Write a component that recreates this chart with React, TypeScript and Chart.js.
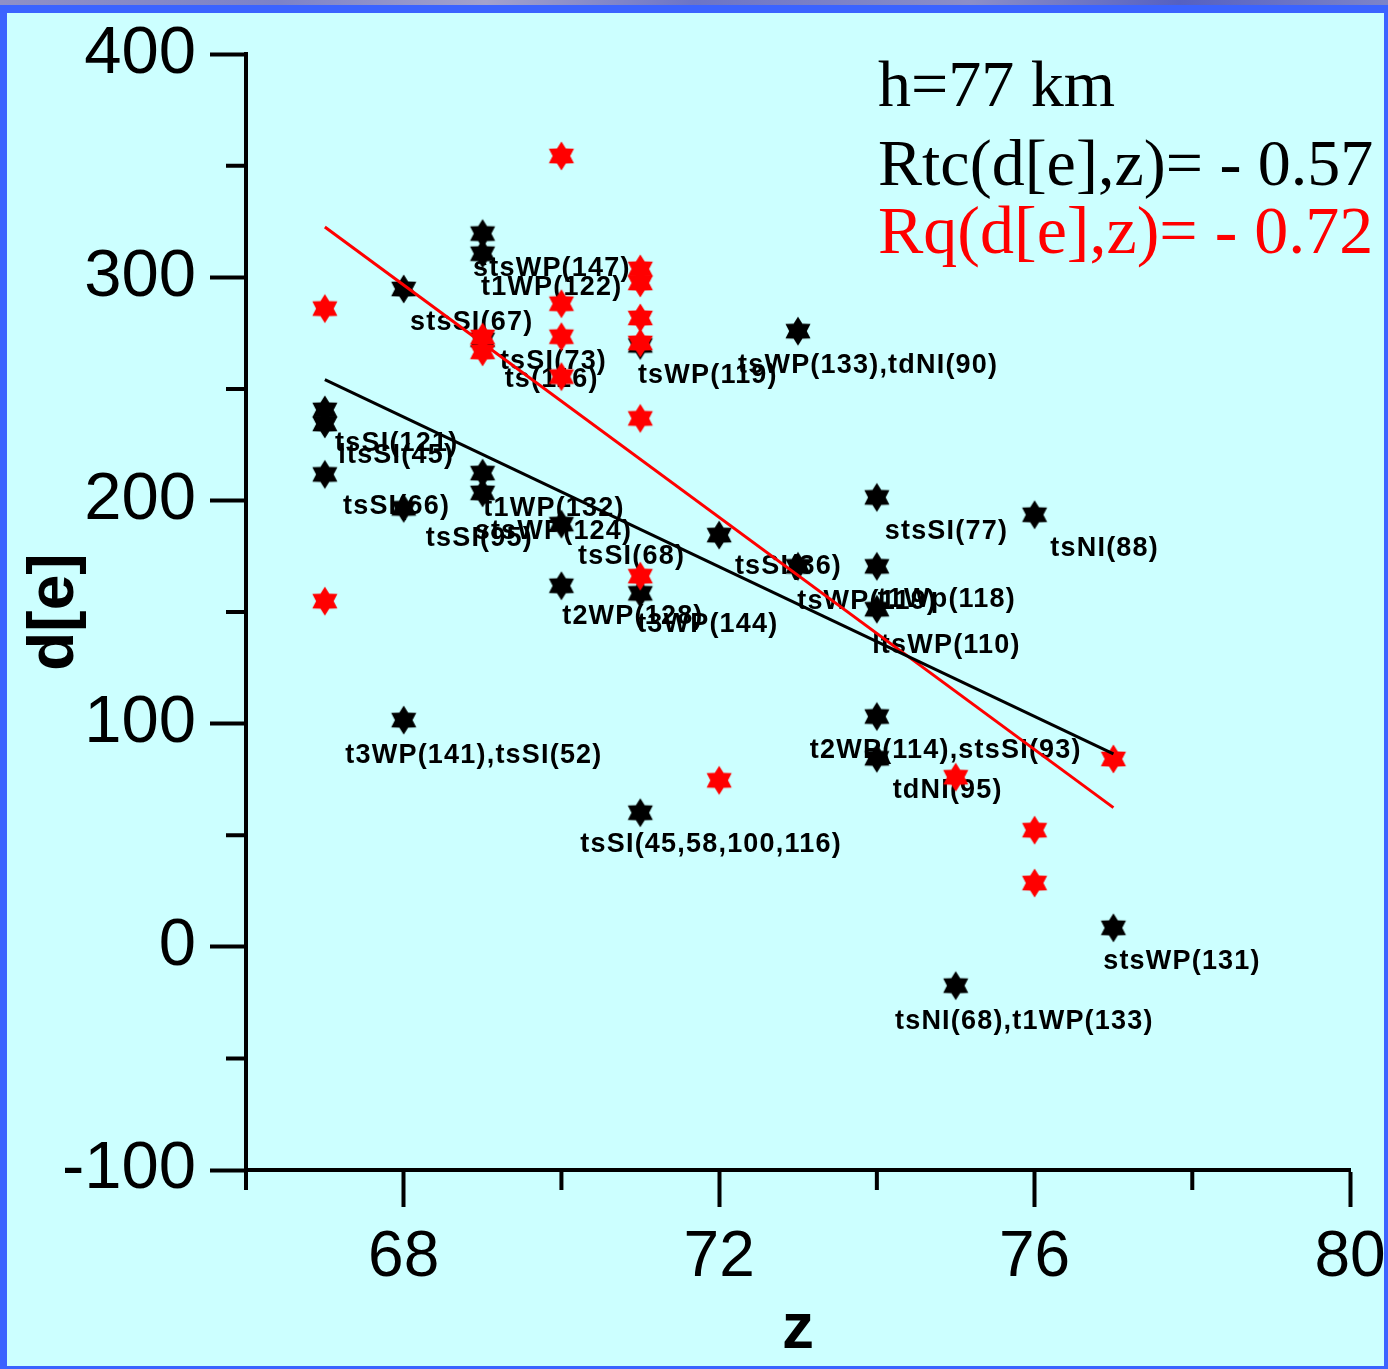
import React, { useEffect, useRef } from 'react';
import { Chart, registerables } from 'chart.js';

Chart.register(...registerables);

// Thermal-class (tc) events: black stars
const tcZ = [67, 67, 67, 68, 68, 68, 69, 69, 69, 69, 69, 70, 70, 71, 71, 71, 72, 73, 73, 74, 74, 74, 74, 74, 75, 76, 77];
const tcD = [240.6, 234.3, 211.7, 294.8, 196.5, 101.6, 319.6, 310.6, 272.0, 212.3, 203.4, 189.4, 161.8, 269.5, 158.4, 60.1, 184.5, 275.9, 170.5, 201.4, 170.5, 151.3, 103.2, 84.5, -17.4, 193.6, 8.5];

// Quake-class (q) events: red stars
const qZ = [67, 67, 69, 69, 70, 70, 70, 70, 71, 71, 71, 71, 71, 71, 72, 75, 76, 76, 77];
const qD = [286.0, 154.9, 273.3, 266.6, 354.4, 288.2, 273.4, 255.5, 303.8, 297.5, 281.8, 270.6, 236.8, 166.1, 74.6, 76.0, 52.3, 28.6, 84.2];

// Linear fits
const fitZ = [67, 77];
const tcFit = [254.2, 86.5];
const qFit = [322.6, 62.4];

// Event labels, anchored at their left edge in data coordinates
const labelText = [
  'stsWP(147)', 't1WP(122)', 'stsSI(67)', 'tsSI(73)', 'ts(116)', 'tsWP(119)', 'tsWP(133),tdNI(90)',
  'tsSI(121)', 'ltsSI(45)', 'tsSI(66)', 't1WP(132)', 'stsWP(124)', 'tsSI(95)', 'tsSI(68)',
  't2WP(128)', 't3WP(144)', 'tsSI(36)', 'stsSI(77)', 'tsNI(88)', 'tsWP(119)', 't1Wp(118)',
  'ltsWP(110)', 't3WP(141),tsSI(52)', 'tsSI(45,58,100,116)', 't2WP(114),stsSI(93)', 'tdNI(95)',
  'stsWP(131)', 'tsNI(68),t1WP(133)',
];
const labelZ = [
  68.88, 68.98, 68.08, 69.22, 69.28, 70.97, 72.24,
  67.13, 67.17, 67.23, 69.01, 68.90, 68.28, 70.21,
  70.01, 70.96, 72.20, 74.10, 76.20, 72.99, 74.01,
  73.94, 67.26, 70.24, 73.15, 74.20,
  76.87, 74.23,
];
const labelD = [
  303.8, 295.3, 279.7, 262.3, 254.2, 256.0, 260.5,
  225.6, 220.2, 197.4, 196.5, 186.2, 183.1, 175.0,
  147.8, 144.2, 170.6, 186.2, 178.6, 154.9, 155.8,
  134.8, 85.6, 45.8, 87.8, 69.9,
  -6.5, -33.4,
];

// Axis ticks
const xMajor = [68, 72, 76, 80];
const xMinor = [66, 70, 74, 78];
const yMinor = [-50, 50, 150, 250, 350];

const W = 1388;
const H = 1369;
const SANS = '"Liberation Sans", Arial, sans-serif';
const SERIF = '"Liberation Serif", "Times New Roman", serif';

function hexagram(color: string): HTMLCanvasElement {
  const c = document.createElement('canvas');
  c.width = 32;
  c.height = 32;
  const g = c.getContext('2d')!;
  const R = 14.5;
  const r = 8.8;
  g.fillStyle = color;
  g.beginPath();
  for (let i = 0; i < 12; i++) {
    const a = -Math.PI / 2 + (i * Math.PI) / 6;
    const rad = i % 2 === 0 ? R : r;
    const px = 16 + rad * Math.cos(a);
    const py = 16 + rad * Math.sin(a);
    if (i === 0) g.moveTo(px, py);
    else g.lineTo(px, py);
  }
  g.closePath();
  g.fill();
  return c;
}

const framePlugin = {
  id: 'frame',
  beforeDraw(chart: any) {
    const { ctx, width, height } = chart;
    ctx.save();
    ctx.fillStyle = '#3b63ff';
    ctx.fillRect(0, 0, width, height);
    const g = ctx.createLinearGradient(0, 0, width, 0);
    g.addColorStop(0, '#8f90c6');
    g.addColorStop(0.2, '#7c82c8');
    g.addColorStop(0.35, '#a3a2cc');
    g.addColorStop(0.5, '#6c74c6');
    g.addColorStop(0.7, '#8b8ec8');
    g.addColorStop(0.85, '#5560c2');
    g.addColorStop(1, '#7d84c8');
    ctx.fillStyle = g;
    ctx.fillRect(0, 0, width, 5);
    ctx.fillStyle = '#ccffff';
    ctx.fillRect(7, 13, 1377, 1353);
    ctx.restore();
  },
};

const labelPlugin = {
  id: 'eventLabels',
  beforeDatasetsDraw(chart: any) {
    const { ctx, scales } = chart;
    ctx.save();
    ctx.font = `bold 27px ${SANS}`;
    (ctx as any).letterSpacing = '1.2px';
    ctx.fillStyle = '#000';
    ctx.textAlign = 'left';
    ctx.textBaseline = 'middle';
    labelText.forEach((t, i) => {
      ctx.fillText(t, scales.x.getPixelForValue(labelZ[i]), scales.y.getPixelForValue(labelD[i]));
    });
    ctx.restore();
  },
};

const minorTickPlugin = {
  id: 'minorTicks',
  afterDraw(chart: any) {
    const { ctx, scales, chartArea } = chart;
    ctx.save();
    ctx.strokeStyle = '#000';
    ctx.lineWidth = 4;
    ctx.beginPath();
    yMinor.forEach((v) => {
      const py = scales.y.getPixelForValue(v);
      ctx.moveTo(chartArea.left - 20, py);
      ctx.lineTo(chartArea.left, py);
    });
    xMinor.forEach((v) => {
      const px = scales.x.getPixelForValue(v);
      ctx.moveTo(px, chartArea.bottom);
      ctx.lineTo(px, chartArea.bottom + 20);
    });
    ctx.stroke();
    ctx.restore();
  },
};

const notePlugin = {
  id: 'notes',
  afterDraw(chart: any) {
    const { ctx } = chart;
    ctx.save();
    ctx.textAlign = 'left';
    ctx.textBaseline = 'alphabetic';
    ctx.fillStyle = '#000';
    ctx.font = `66px ${SERIF}`;
    ctx.fillText('h=77 km', 878, 106);
    ctx.fillText('Rtc(d[e],z)= - 0.57', 878, 185);
    ctx.fillStyle = '#ff0000';
    ctx.font = `68px ${SERIF}`;
    ctx.fillText('Rq(d[e],z)= - 0.72', 878, 253);
    ctx.restore();
  },
};

export default function App() {
  const ref = useRef<HTMLCanvasElement>(null);

  useEffect(() => {
    const blackStar = hexagram('#000000');
    const redStar = hexagram('#ff0000');

    const chart = new Chart(ref.current!, {
      type: 'scatter',
      data: {
        datasets: [
          {
            label: 'tc fit',
            type: 'line',
            data: fitZ.map((z, i) => ({ x: z, y: tcFit[i] })),
            borderColor: '#000',
            borderWidth: 3,
            pointRadius: 0,
            fill: false,
            order: 0,
          },
          {
            label: 'q fit',
            type: 'line',
            data: fitZ.map((z, i) => ({ x: z, y: qFit[i] })),
            borderColor: '#ff0000',
            borderWidth: 3,
            pointRadius: 0,
            fill: false,
            order: 0,
          },
          {
            label: 'q',
            data: qZ.map((z, i) => ({ x: z, y: qD[i] })),
            pointStyle: redStar,
            pointRadius: 14,
            order: 1,
          },
          {
            label: 'tc',
            data: tcZ.map((z, i) => ({ x: z, y: tcD[i] })),
            pointStyle: blackStar,
            pointRadius: 14,
            order: 2,
          },
        ],
      },
      options: {
        responsive: false,
        animation: false,
        devicePixelRatio: 1,
        layout: { padding: { top: 52, right: 38, bottom: 0, left: 0 } },
        plugins: {
          legend: { display: false },
          tooltip: { enabled: false },
        },
        scales: {
          x: {
            type: 'linear',
            min: 66,
            max: 80,
            afterFit(scale: any) {
              scale.height = 199;
            },
            ticks: {
              stepSize: 2,
              autoSkip: false,
              maxRotation: 0,
              minRotation: 0,
              padding: 0,
              color: '#000',
              font: { family: SANS, size: 64, lineHeight: 1.6 },
              callback: (v: any) => (xMajor.includes(Number(v)) ? String(v) : ''),
            },
            grid: {
              display: true,
              drawOnChartArea: false,
              drawTicks: true,
              tickLength: 37,
              tickWidth: 4,
              tickColor: (c: any) => (xMajor.includes(c.tick?.value) ? '#000' : 'rgba(0,0,0,0)'),
            },
            border: { display: true, color: '#000', width: 4 },
            title: {
              display: true,
              text: 'z',
              color: '#000',
              font: { family: SANS, size: 64, weight: 'bold' },
              padding: { top: 0, bottom: 0 },
            },
          },
          y: {
            type: 'linear',
            min: -100,
            max: 400,
            afterFit(scale: any) {
              scale.width = 246;
            },
            ticks: {
              stepSize: 100,
              autoSkip: false,
              padding: 14,
              color: '#000',
              font: { family: SANS, size: 67 },
            },
            grid: {
              display: true,
              drawOnChartArea: false,
              drawTicks: true,
              tickLength: 36,
              tickWidth: 4,
              tickColor: '#000',
            },
            border: { display: true, color: '#000', width: 4 },
            title: {
              display: true,
              text: 'd[e]',
              color: '#000',
              font: { family: SANS, size: 64, weight: 'bold' },
              padding: { top: 17, bottom: 0 },
            },
          },
        },
      },
      plugins: [framePlugin, labelPlugin, minorTickPlugin, notePlugin],
    } as any);

    return () => chart.destroy();
  }, []);

  return (
    <div style={{ position: 'fixed', left: 0, top: 0, width: W, height: H }}>
      <canvas ref={ref} width={W} height={H} style={{ display: 'block', width: W, height: H }} />
    </div>
  );
}
